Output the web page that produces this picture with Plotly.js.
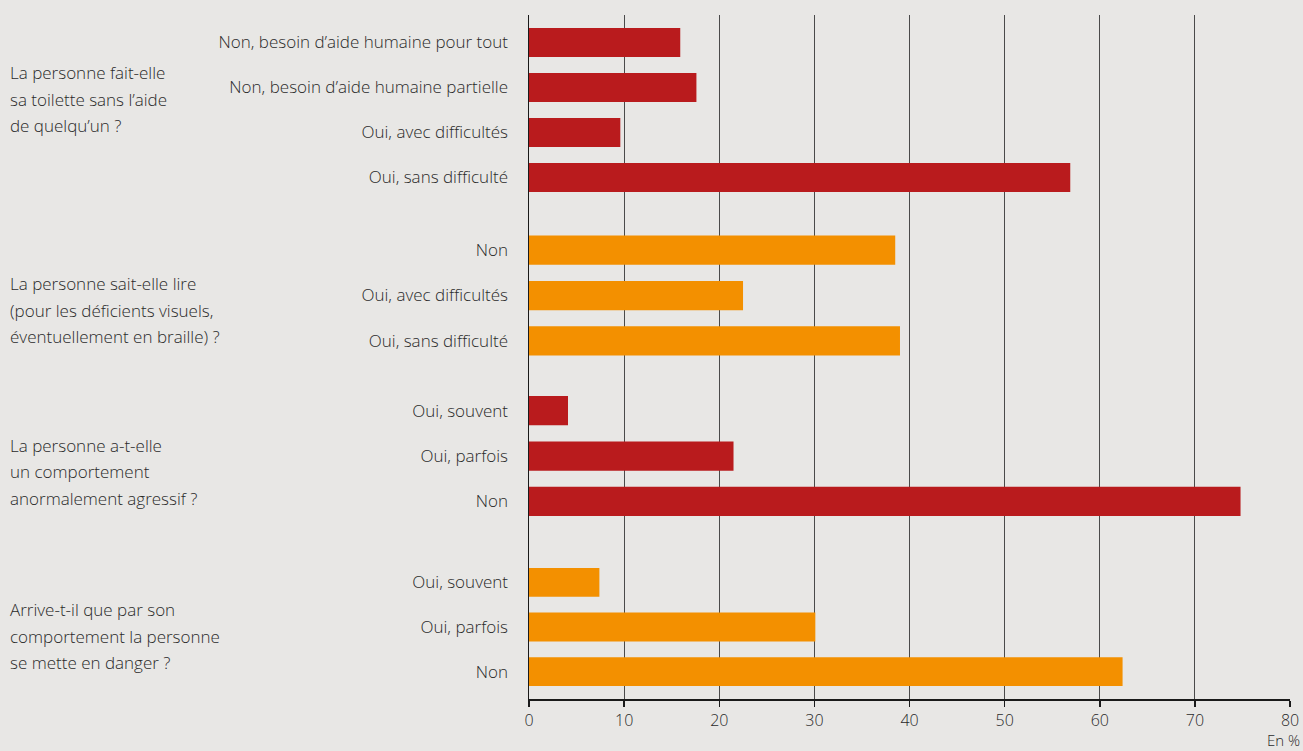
<!DOCTYPE html>
<html>
<head>
<meta charset="utf-8">
<script src="https://cdn.plot.ly/plotly-3.0.1.min.js"></script>
<style>
  html, body { margin: 0; padding: 0; background: #e8e7e5; }
  #chart { width: 1303px; height: 751px; }
</style>
</head>
<body>
<div id="chart"></div>
<script>
// ---- Data ----
const questionLines = [
  ["La personne fait-elle", "sa toilette sans l’aide", "de quelqu’un ?"],
  ["La personne sait-elle lire", "(pour les déficients visuels,", "éventuellement en braille) ?"],
  ["La personne a-t-elle", "un comportement", "anormalement agressif ?"],
  ["Arrive-t-il que par son", "comportement la personne", "se mette en danger ?"]
];
const cats1 = ["Non, besoin d’aide humaine pour tout", "Non, besoin d’aide humaine partielle", "Oui, avec difficultés", "Oui, sans difficulté"];
const vals1 = [15.9, 17.6, 9.6, 56.9];
const cats2 = ["Non", "Oui, avec difficultés", "Oui, sans difficulté"];
const vals2 = [38.5, 22.5, 39.0];
const cats3 = ["Oui, souvent", "Oui, parfois", "Non"];
const vals3 = [4.1, 21.5, 74.8];
const cats4 = ["Oui, souvent", "Oui, parfois", "Non"];
const vals4 = [7.4, 30.1, 62.4];
const xTicks = [0, 10, 20, 30, 40, 50, 60, 70, 80];
const unitLabel = "En %";

// ---- Styles ----
const RED = "#b91b1d";
const ORANGE = "#f39000";
const BG = "#e8e7e5";
const TXT = "#2a2a2a";
const FONT = "'Open Sans', Lato, sans-serif";
const FS = 17;
const FW = 300;
const LINE_H = 26.5;
const tf = (s) => ({family: FONT, size: s || FS, color: TXT, weight: FW});

const groups = [
  {cats: cats1, vals: vals1, color: RED, axis: "y2", domain: [0.7295, 0.9927], qy: 0.8765},
  {cats: cats2, vals: vals2, color: ORANGE, axis: "y3", domain: [0.4905, 0.6893], qy: 0.5687},
  {cats: cats3, vals: vals3, color: RED, axis: "y4", domain: [0.2558, 0.4547], qy: 0.3319},
  {cats: cats4, vals: vals4, color: ORANGE, axis: "y5", domain: [0.0073, 0.2032], qy: 0.0921}
];

const traces = [{type: "scatter", x: [], y: [], xaxis: "x", yaxis: "y", showlegend: false, hoverinfo: "skip"}];
groups.forEach(g => {
  traces.push({
    type: "bar", orientation: "h",
    x: g.vals, y: g.cats,
    xaxis: "x", yaxis: g.axis,
    marker: {color: g.color, line: {width: 0}},
    showlegend: false, hoverinfo: "x+y"
  });
});

const layout = {
  width: 1303, height: 751,
  margin: {l: 529, r: 13, t: 15, b: 52},
  paper_bgcolor: BG,
  plot_bgcolor: "rgba(0,0,0,0)",
  bargap: 0.355,
  font: tf(),
  showlegend: false,
  xaxis: {
    anchor: "y", range: [0, 80], tickvals: xTicks,
    showgrid: true, gridcolor: "#4a4a4a", gridwidth: 1,
    zeroline: false, showline: true, linecolor: "#1a1a1a", linewidth: 1.5,
    ticks: "outside", ticklen: 6, tickcolor: "#1a1a1a", tickwidth: 1.5,
    ticklabelstandoff: 0,
    tickfont: tf(16), fixedrange: true
  },
  yaxis: {
    domain: [0, 1], range: [0, 1], anchor: "x",
    showgrid: false, zeroline: false, showticklabels: false,
    showline: true, linecolor: "#1a1a1a", linewidth: 1.5, fixedrange: true
  },
  annotations: [],
};

groups.forEach((g, i) => {
  const key = "yaxis" + (i + 2);
  layout[key] = {
    domain: g.domain, anchor: "x", type: "category",
    categoryorder: "array", categoryarray: g.cats,
    autorange: "reversed", showgrid: false, zeroline: false, showline: false,
    ticks: "", ticklabelstandoff: 20,
    tickfont: tf(), fixedrange: true
  };
  const lines = questionLines[i];
  lines.forEach((ln, j) => {
    layout.annotations.push({
      xref: "paper", yref: "paper", x: -0.6846, y: g.qy,
      yshift: ((lines.length - 1) / 2 - j) * LINE_H,
      xanchor: "left", yanchor: "middle", align: "left",
      text: ln, showarrow: false,
      font: tf()
    });
  });
});

layout.annotations.push({
  xref: "paper", yref: "paper", x: 1, y: -0.076, xshift: 11,
  xanchor: "right", yanchor: "bottom", borderpad: 0,
  text: unitLabel, showarrow: false,
  font: tf(15)
});

Plotly.newPlot("chart", traces, layout, {displayModeBar: false, staticPlot: true});
</script>
</body>
</html>
